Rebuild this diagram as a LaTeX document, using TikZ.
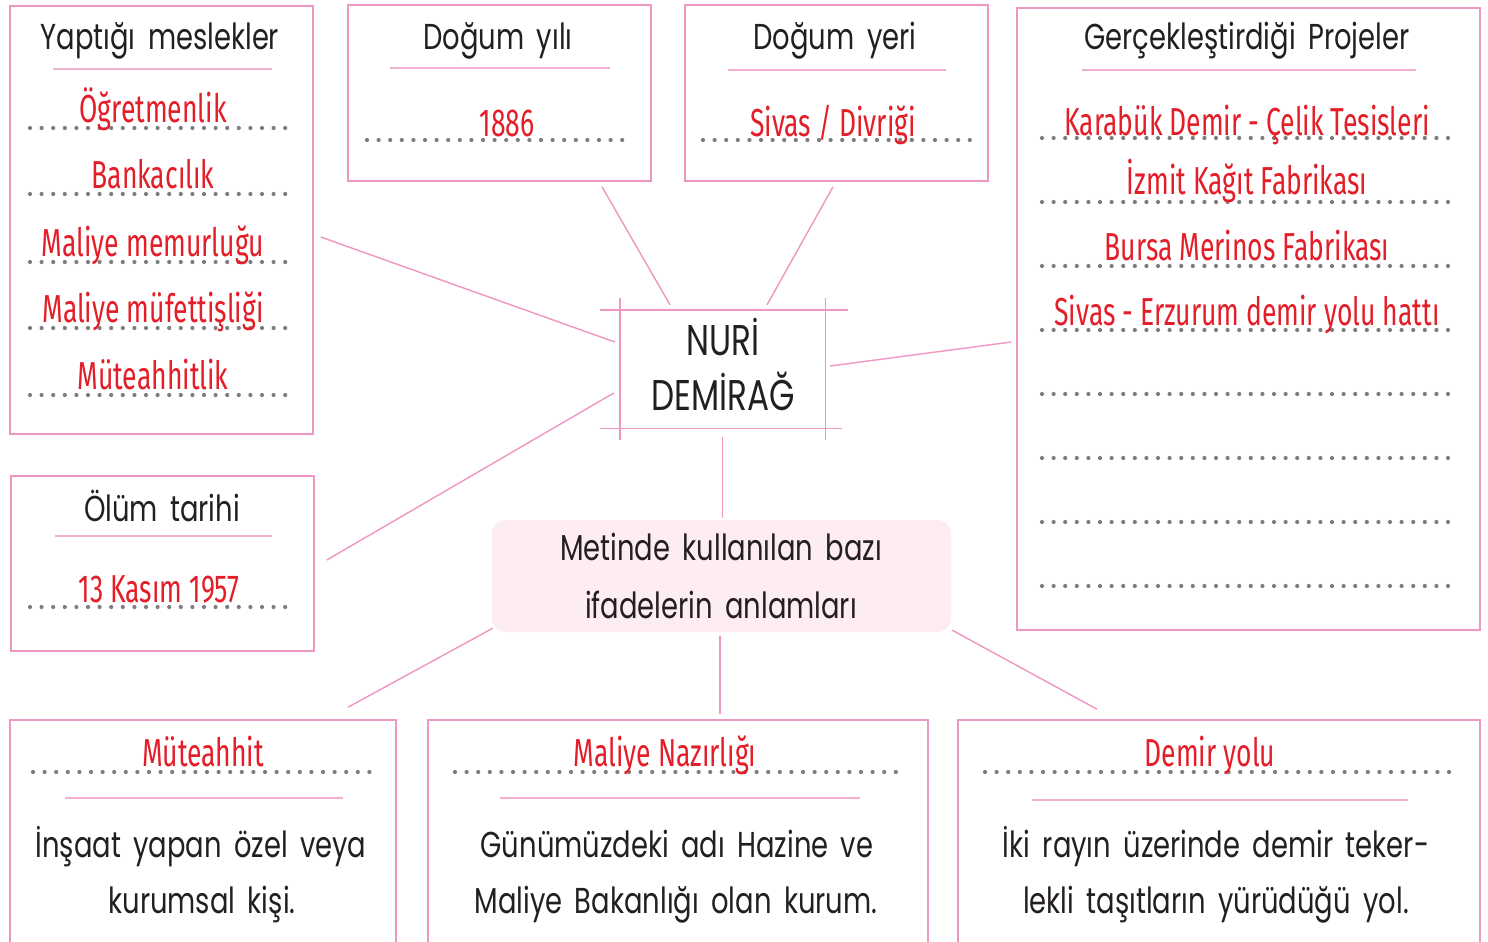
\documentclass[tikz,border=0pt]{standalone}
\usepackage{fontspec}
\newfontfamily\headfont[FakeStretch=0.76,WordSpace=1.7]{Poppins}
\newfontfamily\handfont[FakeStretch=0.68]{Fira Sans}
\usetikzlibrary{calc}
\definecolor{linkpink}{RGB}{240,150,195}
\definecolor{rulepink}{RGB}{242,175,208}
\definecolor{anlampink}{RGB}{253,236,243}
\definecolor{answerred}{RGB}{228,30,40}
\definecolor{dotgray}{RGB}{125,125,125}
\definecolor{ink}{RGB}{35,31,32}

\begin{document}
\begin{tikzpicture}[x=1pt,y=-1pt,
    panel/.style={draw=linkpink,line width=1.6pt,inner sep=0pt},
    link/.style={linkpink,line width=1.4pt},
    underrule/.style={rulepink,line width=1.2pt},
    dotline/.style={dotgray,line width=4.2pt,line cap=round,dash pattern=on 0pt off 11.6pt},
    headtext/.style={anchor=base,text=ink,font=\headfont\fontsize{36}{36}\selectfont},
    answer/.style={anchor=base,text=answerred,font=\handfont\fontsize{39}{39}\selectfont}]
  \fill[white] (0,0) rectangle (1488,942);
  \useasboundingbox (0,0) rectangle (1488,942);
  \clip (0,0) rectangle (1488,942);

  \node[panel,minimum width=303pt,minimum height=428pt] (meslek) at (161.5,220) {};
  \node[panel,minimum width=303pt,minimum height=176pt] (yil) at (499.5,93) {};
  \node[panel,minimum width=303pt,minimum height=176pt] (yer) at (836.5,93) {};
  \node[panel,minimum width=463pt,minimum height=622pt] (proje) at (1248.5,319) {};
  \node[panel,minimum width=303pt,minimum height=175pt] (olum) at (162.5,563.5) {};
  \node[panel,minimum width=386pt,minimum height=240pt] (muteahhit) at (203,840) {};
  \node[panel,minimum width=500pt,minimum height=240pt] (nazir) at (678,840) {};
  \node[panel,minimum width=522pt,minimum height=240pt] (demiryolu) at (1219,840) {};
  \node[minimum width=205pt,minimum height=118pt] (nuri) at (722.5,369) {};
  \node[fill=anlampink,rounded corners=14pt,minimum width=459pt,minimum height=112pt] (anlam) at (721.5,576) {};

  \draw[link] ($(nuri.north west)+(-20,0)$) -- ($(nuri.north east)+(23,0)$);
  \draw[link] ($(nuri.south west)+(-20,0)$) -- ($(nuri.south east)+(17,0)$);
  \draw[link] ($(nuri.north west)+(0,-12)$) -- ($(nuri.south west)+(0,12)$);
  \draw[link] ($(nuri.north east)+(0,-12)$) -- ($(nuri.south east)+(0,12)$);

  \draw[link] ($(meslek.east)+(7,17)$) -- ($(nuri.west)+(-5,-27)$);
  \draw[link] ($(yil.south)+(102.5,5)$) -- ($(nuri.north)+(-52.5,-5)$);
  \draw[link] ($(yer.south)+(-3.5,5)$) -- ($(nuri.north)+(44.5,-5)$);
  \draw[link] ($(olum.east)+(12,-3.5)$) -- ($(nuri.west)+(-6,24)$);
  \draw[link] ($(proje.west)+(-5,23)$) -- ($(nuri.east)+(5,-3)$);
  \draw[link] ($(nuri.south)+(0,9)$) -- ($(anlam.north)+(1,-2)$);
  \draw[link] ($(anlam.south west)+(1,-4)$) -- ($(muteahhit.north)+(145,-12)$);
  \draw[link] ($(anlam.south)+(-1.5,4)$) -- ($(nazir.north)+(42,-5)$);
  \draw[link] ($(anlam.south east)+(1,-2)$) -- ($(demiryolu.north)+(-122,-10)$);

  \node[headtext] (meslekT) at (160,50) {Yaptığı meslekler};
  \draw[underrule] (53,69) -- (272,69);
  \foreach \txt/\y [count=\i] in {Öğretmenlik/128,Bankacılık/194,Maliye memurluğu/262,Maliye müfettişliği/328,Müteahhitlik/395} {
    \draw[dotline] (30,\y) -- (293,\y);
    \node[answer] (meslek\i) at (153,\y-6) {\txt};
  }

  \node[headtext] (yilT) at (498,50) {Doğum yılı};
  \draw[underrule] (390,68) -- (610,68);
  \draw[dotline] (367,140) -- (632,140);
  \node[answer] (yilA) at (507,136) {1886};

  \node[headtext] (yerT) at (835,50) {Doğum yeri};
  \draw[underrule] (728,70) -- (946,70);
  \draw[dotline] (703,140) -- (970,140);
  \node[answer] (yerA) at (833,136) {Sivas / Divriği};

  \node[headtext] (projeT) at (1247,50) {Gerçekleştirdiği Projeler};
  \draw[underrule] (1082,70) -- (1416,70);
  \foreach \y in {138,202,266,330,394,458,522,586}
    \draw[dotline] (1042,\y) -- (1453,\y);
  \foreach \txt/\y [count=\i] in {Karabük Demir - Çelik Tesisleri/135,İzmit Kağıt Fabrikası/194,Bursa Merinos Fabrikası/260,Sivas - Erzurum demir yolu hattı/325}
    \node[answer] (proje\i) at (1247,\y) {\txt};

  \node[headtext] (olumT) at (162,521) {Ölüm tarihi};
  \draw[underrule] (55,536) -- (272,536);
  \draw[dotline] (30,607) -- (295,607);
  \node[answer] (olumA) at (159,602) {13 Kasım 1957};

  \node[font=\headfont\fontsize{43}{43}\selectfont,text=ink,anchor=base] (ad) at (723,355) {NURİ};
  \node[font=\headfont\fontsize{43}{43}\selectfont,text=ink,anchor=base] (soyad) at (723,410) {DEMİRAĞ};

  \node[headtext] (anlamA) at (721,560) {Metinde kullanılan bazı};
  \node[headtext] (anlamB) at (721,618) {ifadelerin anlamları};

  \draw[dotline] (33,772) -- (373,772);
  \node[answer] (muteahhitA) at (203,766) {Müteahhit};
  \draw[underrule] (65,798) -- (343,798);
  \node[headtext] (muteahhitB) at (201,857) {İnşaat yapan özel veya};
  \node[headtext] (muteahhitC) at (202,913) {kurumsal kişi.};

  \draw[dotline] (455,772) -- (900,772);
  \node[answer] (nazirA) at (665,766) {Maliye Nazırlığı};
  \draw[underrule] (500,798) -- (860,798);
  \node[headtext] (nazirB) at (677,857) {Günümüzdeki adı Hazine ve};
  \node[headtext] (nazirC) at (676,913) {Maliye Bakanlığı olan kurum.};

  \draw[dotline] (985,772) -- (1452,772);
  \node[answer] (demiryoluA) at (1210,766) {Demir yolu};
  \draw[underrule] (1032,800) -- (1408,800);
  \node[headtext] (demiryoluB) at (1216,857) {İki rayın üzerinde demir teker-};
  \node[headtext] (demiryoluC) at (1216,913) {lekli taşıtların yürüdüğü yol.};
\end{tikzpicture}
\end{document}
